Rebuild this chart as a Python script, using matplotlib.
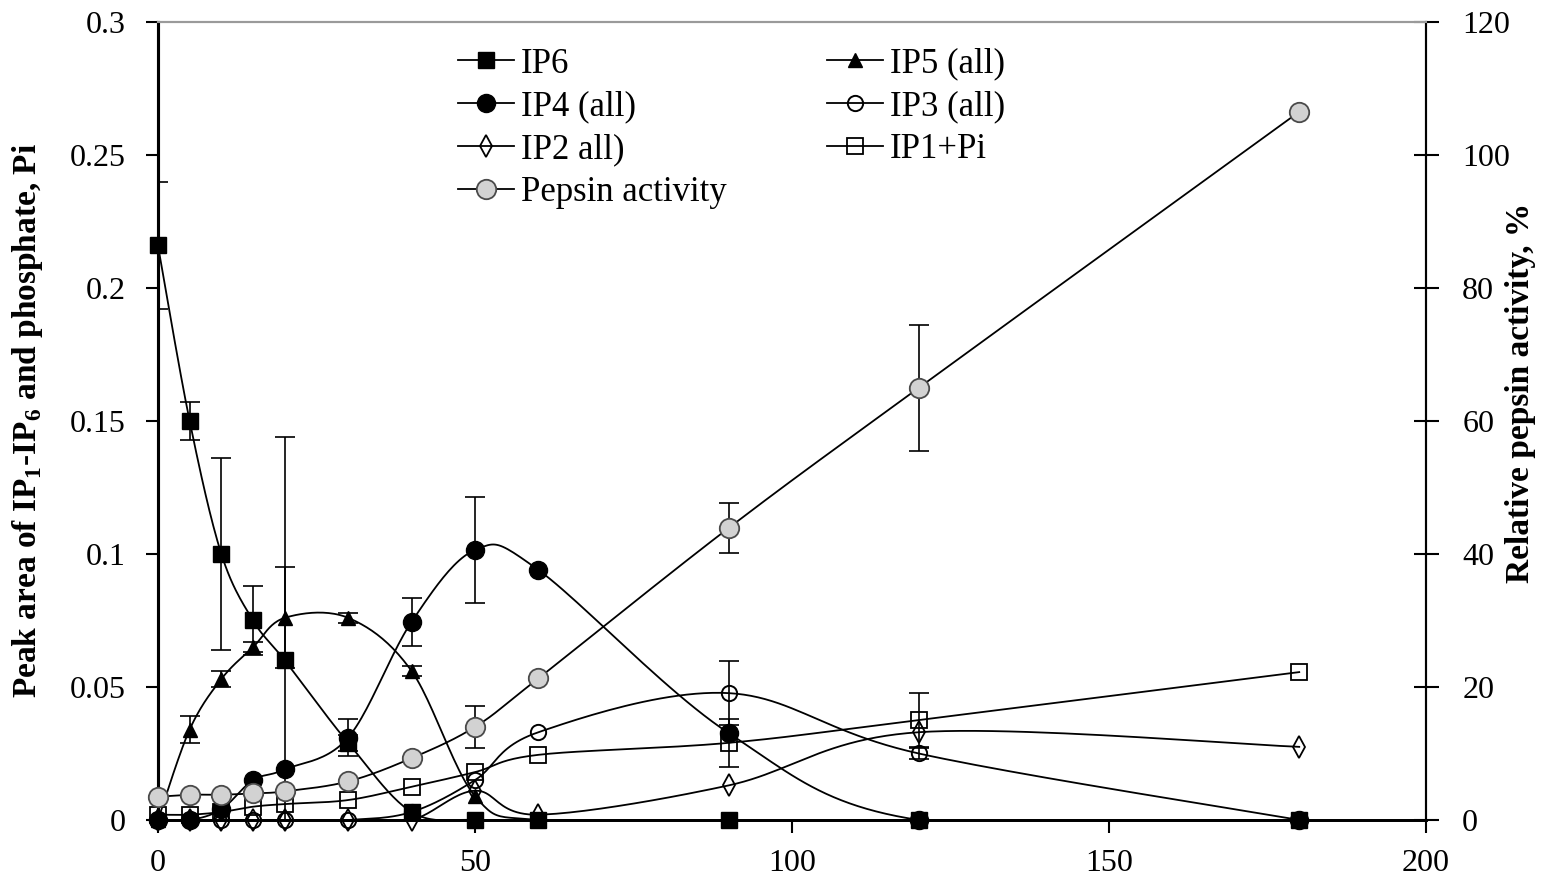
import numpy as np
import matplotlib
matplotlib.use("Agg")
import matplotlib.pyplot as plt
from matplotlib.lines import Line2D

# ------------------ data ------------------
time_min = [0, 5, 10, 15, 20, 30, 40, 50, 60, 90, 120, 180]

ip6 = [0.216, 0.150, 0.100, 0.075, 0.060, 0.029, 0.003, 0.0, 0.0, 0.0, 0.0, 0.0]
ip6_err = [0.024, 0.007, 0.036, 0.013, 0.084, 0.003, 0, 0, 0, 0, 0, 0]

ip5 = [0.0, 0.034, 0.053, 0.065, 0.076, 0.076, 0.056, 0.009, 0.0, 0.0, 0.0, 0.0]
ip5_err = [0, 0.005, 0.003, 0.002, 0.019, 0.002, 0.002, 0, 0, 0, 0, 0]

ip4 = [0.0, 0.0, 0.004, 0.015, 0.019, 0.031, 0.0745, 0.1015, 0.094, 0.0327, 0.0, 0.0]
ip4_err = [0, 0, 0, 0, 0, 0.007, 0.009, 0.020, 0, 0, 0, 0]

ip3 = [0.0, 0.0, 0.0, 0.0, 0.0, 0.0, 0.003, 0.015, 0.033, 0.0477, 0.025, 0.0]
ip3_err = [0, 0, 0, 0, 0, 0, 0, 0, 0, 0.012, 0.002, 0]

ip2 = [0.0, 0.0, 0.0, 0.0, 0.0, 0.0, 0.0, 0.011, 0.002, 0.013, 0.033, 0.0275]
ip2_err = [0, 0, 0, 0, 0, 0, 0, 0, 0, 0, 0, 0]

ip1_pi = [0.002, 0.002, 0.003, 0.005, 0.006, 0.0075, 0.0125, 0.018, 0.0245, 0.029, 0.0376, 0.0556]
ip1_pi_err = [0, 0, 0, 0, 0, 0, 0, 0, 0, 0.009, 0.010, 0]

pepsin = [3.5, 3.8, 3.8, 4.0, 4.3, 5.8, 9.3, 14.0, 21.3, 43.9, 65.0, 106.5]
pepsin_err = [0, 0, 0, 0, 0, 0, 0, 3.2, 0, 3.8, 9.5, 0]

left_ticks = [0, 0.05, 0.1, 0.15, 0.2, 0.25, 0.3]
right_ticks = [0, 20, 40, 60, 80, 100, 120]
x_ticks = [0, 50, 100, 150, 200]
# ----------------------------------------------------------------

plt.rcParams["font.family"] = "Liberation Serif"
plt.rcParams["mathtext.fontset"] = "custom"
plt.rcParams["mathtext.rm"] = "Liberation Serif"
plt.rcParams["mathtext.bf"] = "Liberation Serif:bold"


def smooth_curve(x, y, n=24):
    # excel-like smoothed line: catmull-rom segments as cubic bezier
    p = np.column_stack([x, y]).astype(float)
    pad = np.vstack([p[:1], p, p[-1:]])
    t = np.linspace(0, 1, n + 1)[1:, None]
    pts = [p[:1]]
    for i in range(len(p) - 1):
        p0, p1, p2, p3 = pad[i], pad[i + 1], pad[i + 2], pad[i + 3]
        c1 = p1 + (p2 - p0) / 6.0
        c2 = p2 - (p3 - p1) / 6.0
        seg = ((1 - t) ** 3 * p1 + 3 * (1 - t) ** 2 * t * c1
               + 3 * (1 - t) * t ** 2 * c2 + t ** 3 * p2)
        pts.append(seg)
    pts = np.vstack(pts)
    marks = [i * n for i in range(len(p))]
    return pts[:, 0], np.clip(pts[:, 1], 0, None), marks


def draw_series(ax, y, err, style):
    xs, ys, marks = smooth_curve(time_min, y)
    ax.plot(xs, ys, color="black", lw=1.3, markevery=marks,
            clip_on=False, zorder=3, **style)
    e = np.asarray(err, float)
    keep = e > 0
    if keep.any():
        ax.errorbar(np.asarray(time_min)[keep], np.asarray(y)[keep], yerr=e[keep],
                    fmt="none", ecolor="black", elinewidth=1.2, capsize=7,
                    capthick=1.2, zorder=2)


styles = {
    "IP6": dict(marker="s", ms=12, mfc="black", mec="black"),
    "IP5 (all)": dict(marker="^", ms=10, mfc="black", mec="black"),
    "IP4 (all)": dict(marker="o", ms=13, mfc="black", mec="black"),
    "IP3 (all)": dict(marker="o", ms=11, mfc="none", mec="black", mew=1.4),
    "IP2 all)": dict(marker="d", ms=11, mfc="none", mec="black", mew=1.3),
    "IP1+Pi": dict(marker="s", ms=11, mfc="none", mec="black", mew=1.3),
    "Pepsin activity": dict(marker="o", ms=14, mfc="#d2d2d2", mec="#4a4a4a", mew=1.3),
}

fig = plt.figure(figsize=(15.41, 8.77), dpi=100)
ax = fig.add_axes([0.1025, 0.065, 0.8229, 0.9099])
ax2 = ax.twinx()

draw_series(ax, ip6, ip6_err, styles["IP6"])
draw_series(ax, ip5, ip5_err, styles["IP5 (all)"])
draw_series(ax, ip4, ip4_err, styles["IP4 (all)"])
draw_series(ax, ip3, ip3_err, styles["IP3 (all)"])
draw_series(ax, ip2, ip2_err, styles["IP2 all)"])
draw_series(ax, ip1_pi, ip1_pi_err, styles["IP1+Pi"])
draw_series(ax2, pepsin, pepsin_err, styles["Pepsin activity"])

ax.set_xlim(0, 200)
ax.set_ylim(0, 0.3)
ax2.set_ylim(0, 120)
ax.set_xticks(x_ticks)
ax.set_yticks(left_ticks)
ax.set_yticklabels(["%g" % v for v in left_ticks])
ax2.set_yticks(right_ticks)

ax.tick_params(axis="y", direction="out", length=9, width=1.5, labelsize=23, pad=14)
ax.tick_params(axis="x", direction="out", length=9, width=1.5, labelsize=23, pad=12)
ax2.tick_params(axis="y", direction="inout", length=18, width=1.5, labelsize=23, pad=17)

for a in (ax, ax2):
    a.spines["left"].set_linewidth(2.2)
    a.spines["bottom"].set_linewidth(2.0)
    a.spines["right"].set_linewidth(1.5)
    a.spines["top"].set_color("#9a9a9a")
    a.spines["top"].set_linewidth(1.5)
    a.patch.set_visible(False)

ax.set_ylabel(r"Peak area of IP$_\mathbf{1}$-IP$_\mathbf{6}$ and phosphate, Pi",
              fontsize=24, fontweight="bold")
ax.yaxis.set_label_coords(-0.089, 0.5)
ax2.set_ylabel("Relative pepsin activity, %", fontsize=24, fontweight="bold")
ax2.yaxis.set_label_coords(1.062, 0.535)

order = ["IP6", "IP4 (all)", "IP2 all)", "Pepsin activity",
         "IP5 (all)", "IP3 (all)", "IP1+Pi"]
handles = [Line2D([], [], color="black", lw=1.3, **styles[k]) for k in order]
ax2.legend(handles, order, ncol=2, loc="upper left", bbox_to_anchor=(0.237, 0.968),
           frameon=False, fontsize=25, handlelength=1.6, handletextpad=0.2,
           labelspacing=0.28, columnspacing=2.9, borderaxespad=0, borderpad=0)

fig.savefig("out.png", dpi=100)
